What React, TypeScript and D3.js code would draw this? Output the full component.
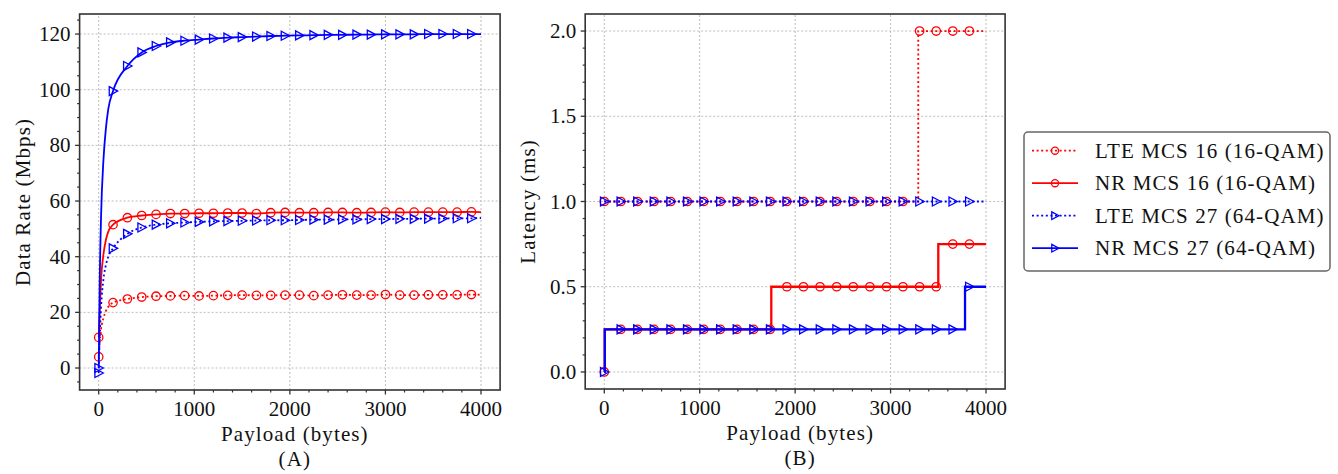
import { useEffect, useRef } from 'react'
import * as d3 from 'd3'

const RED = '#ff0000'
const BLUE = '#0000ff'
const FONT = 'Liberation Serif, DejaVu Serif, serif'

// panel A: data rate vs payload
const rateX = [0, 10, 25, 50, 75, 100, 150, 300, 450, 600, 750, 900, 1050, 1200, 1350, 1500, 1650, 1800, 1950,
  2100, 2250, 2400, 2550, 2700, 2850, 3000, 3150, 3300, 3450, 3600, 3750, 3900, 4000]
const lte16Rate = [4, 9, 14, 18, 20.5, 22, 23.5, 24.8, 25.5, 25.8, 25.9, 26, 25.9, 26, 26.1, 26.2, 26.1, 26.1, 26.2,
  26.2, 26, 26.2, 26.3, 26.2, 26.2, 26.4, 26.2, 26.2, 26.3, 26.3, 26.3, 26.4, 26.3]
const nr16Rate = [11, 20, 32, 41, 46, 49, 51.5, 54, 54.8, 55.2, 55.5, 55.5, 55.6, 55.6, 55.7, 55.7, 55.5, 55.8, 55.9,
  55.8, 55.8, 55.9, 55.9, 55.8, 55.9, 56, 55.9, 56, 56, 56, 56, 56.1, 56]
const lte27Rate = [-1.8, 10, 22, 32, 37, 40, 43, 48.2, 50.5, 51.5, 52, 52.3, 52.5, 52.7, 52.8, 52.9, 53, 53.1, 53.1,
  53.2, 53.3, 53.3, 53.4, 53.4, 53.5, 53.5, 53.6, 53.6, 53.7, 53.7, 53.8, 53.8, 53.9]
const nr27Rate = [0, 30, 55, 75, 86, 93, 99.5, 108.5, 113.4, 115.7, 117, 117.6, 118, 118.4, 118.7, 118.9, 119.1, 119.3, 119.4,
  119.5, 119.6, 119.7, 119.7, 119.8, 119.8, 119.9, 119.9, 119.9, 120, 120, 120, 120, 120]

// panel B: latency steps (value holds from x onwards)
const latMarkX = [0, 174, 348, 522, 696, 870, 1043, 1217, 1391, 1565, 1739, 1913, 2087, 2261, 2435, 2609, 2783,
  2957, 3130, 3304, 3478, 3652, 3826]
const lte16StepX = [0, 3290]
const lte16StepY = [1.0, 2.0]
const nr16StepX = [0, 5, 1750, 3500]
const nr16StepY = [0, 0.25, 0.5, 0.75]
const lte27StepX = [0]
const lte27StepY = [1.0]
const nr27StepX = [0, 5, 3780]
const nr27StepY = [0, 0.25, 0.5]

const xTicks = [0, 1000, 2000, 3000, 4000]
const rateTicks = [0, 20, 40, 60, 80, 100, 120]
const latTicks = [0, 0.5, 1.0, 1.5, 2.0]

const seriesNames = ['LTE MCS 16 (16-QAM)', 'NR MCS 16 (16-QAM)', 'LTE MCS 27 (64-QAM)', 'NR MCS 27 (64-QAM)']
const seriesColors = [RED, RED, BLUE, BLUE]
const seriesDotted = [true, false, true, false]
const seriesMarker = ['circle', 'circle', 'tri', 'tri']

const stepAt = (xs, ys, x) => {
  let v = ys[0]
  xs.forEach((sx, i) => { if (x >= sx) v = ys[i] })
  return v
}

function drawMarker(g, kind, x, y, color, s = 1) {
  if (kind === 'circle') {
    g.append('circle').attr('cx', x).attr('cy', y).attr('r', 4.2 * s)
      .attr('fill', 'none').attr('stroke', color).attr('stroke-width', 1.3)
  } else {
    g.append('path')
      .attr('d', `M${x - 3.8 * s},${y - 4.5 * s}L${x + 4.6 * s},${y}L${x - 3.8 * s},${y + 4.5 * s}Z`)
      .attr('fill', 'none').attr('stroke', color).attr('stroke-width', 1.3)
  }
}

function label(g, x, y, txt, anchor = 'middle', spacing = 1.1) {
  return g.append('text').attr('x', x).attr('y', y)
    .attr('text-anchor', anchor)
    .style('font-family', FONT).style('font-size', '21px')
    .style('letter-spacing', `${spacing}px`).attr('fill', '#111')
    .text(txt)
}

function drawFrame(svg, x, y, yTicks, yMinor, fmt, xLabel, yLabel, yLabelX, panel) {
  const [x0, x1] = x.range()
  const [y0, y1] = y.range()
  const g = svg.append('g')

  // grid
  xTicks.forEach(t => {
    g.append('line').attr('x1', x(t)).attr('x2', x(t)).attr('y1', y0).attr('y2', y1)
      .attr('stroke', '#bdbdbd').attr('stroke-width', 1).attr('stroke-dasharray', '2,2')
  })
  yTicks.forEach(t => {
    g.append('line').attr('x1', x0).attr('x2', x1).attr('y1', y(t)).attr('y2', y(t))
      .attr('stroke', '#bdbdbd').attr('stroke-width', 1).attr('stroke-dasharray', '2,2')
  })

  // ticks
  const xMinor = d3.range(200, 4200, 200).filter(t => t % 1000 !== 0)
  xMinor.forEach(t => {
    g.append('line').attr('x1', x(t)).attr('x2', x(t)).attr('y1', y0).attr('y2', y0 + 2.5)
      .attr('stroke', '#333').attr('stroke-width', 1.2)
  })
  xTicks.forEach(t => {
    g.append('line').attr('x1', x(t)).attr('x2', x(t)).attr('y1', y0).attr('y2', y0 + 4.5)
      .attr('stroke', '#333').attr('stroke-width', 1.3)
    label(g, x(t), y0 + 26, t, 'middle', 0)
  })
  yMinor.forEach(t => {
    g.append('line').attr('x1', x0).attr('x2', x0 - 2.5).attr('y1', y(t)).attr('y2', y(t))
      .attr('stroke', '#333').attr('stroke-width', 1.2)
  })
  yTicks.forEach(t => {
    g.append('line').attr('x1', x0).attr('x2', x0 - 4.5).attr('y1', y(t)).attr('y2', y(t))
      .attr('stroke', '#333').attr('stroke-width', 1.3)
    label(g, x0 - 9, y(t) + 7, fmt(t), 'end', 0)
  })

  // labels
  const cx = (x0 + x1) / 2 + 5
  label(g, cx, y0 + 51, xLabel)
  label(g, cx, y0 + 76, panel)
  label(g, 0, 0, yLabel)
    .attr('transform', `translate(${yLabelX},${(y0 + y1) / 2}) rotate(-90)`)
}

function drawSpines(svg, x, y) {
  const [x0, x1] = x.range()
  const [y0, y1] = y.range()
  svg.append('rect').attr('x', x0).attr('y', y1).attr('width', x1 - x0).attr('height', y0 - y1)
    .attr('fill', 'none').attr('stroke', '#333').attr('stroke-width', 1.6)
}

export default function App() {
  const svgRef = useRef(null)

  useEffect(() => {
    if (!svgRef.current) return
    const svg = d3.select(svgRef.current)
    svg.selectAll('*').remove()

    // ---- panel A
    const xA = d3.scaleLinear().domain([-200, 4200]).range([79.6, 500.1])
    const yA = d3.scaleLinear().domain([-7.9, 127.2]).range([390, 14])
    drawFrame(svg, xA, yA, rateTicks, d3.range(-5, 127, 5).filter(t => t % 20 !== 0),
      d => d, 'Payload (bytes)', 'Data Rate (Mbps)', 30, '(A)')

    const rateSeries = [lte16Rate, nr16Rate, lte27Rate, nr27Rate]
    const gA = svg.append('g')
    rateSeries.forEach((vals, si) => {
      const pts = rateX.map((xv, i) => [xA(xv), yA(vals[i])])
      gA.append('path').attr('d', d3.line().curve(d3.curveMonotoneX)(pts))
        .attr('fill', 'none').attr('stroke', seriesColors[si]).attr('stroke-width', 1.8)
        .attr('stroke-dasharray', seriesDotted[si] ? '2,2.6' : null)
      rateX.forEach((xv, i) => {
        if (xv % 150 !== 0 || xv > 3900) return
        drawMarker(gA, seriesMarker[si], xA(xv), yA(vals[i]), seriesColors[si])
      })
    })
    drawSpines(svg, xA, yA)

    // ---- panel B
    const xB = d3.scaleLinear().domain([-200, 4200]).range([585.2, 1005.1])
    const yB = d3.scaleLinear().domain([-0.1, 2.1]).range([389, 14])
    drawFrame(svg, xB, yB, latTicks, d3.range(0.1, 2.1, 0.1).filter(t => Math.abs(t * 2 - Math.round(t * 2)) > 1e-6),
      d => d3.format('.1f')(d), 'Payload (bytes)', 'Latency (ms)', 535, '(B)')

    const stepSeries = [[lte16StepX, lte16StepY], [nr16StepX, nr16StepY], [lte27StepX, lte27StepY], [nr27StepX, nr27StepY]]
    const gB = svg.append('g')
    stepSeries.forEach(([sx, sy], si) => {
      const pts = sx.map((xv, i) => [xB(xv), yB(sy[i])])
      pts.push([xB(4000), yB(sy[sy.length - 1])])
      gB.append('path').attr('d', d3.line().curve(d3.curveStepAfter)(pts))
        .attr('fill', 'none').attr('stroke', seriesColors[si]).attr('stroke-width', seriesDotted[si] ? 1.8 : 2.3)
        .attr('stroke-dasharray', seriesDotted[si] ? '2,2.6' : null)
      latMarkX.forEach(xv => {
        drawMarker(gB, seriesMarker[si], xB(xv), yB(stepAt(sx, sy, xv)), seriesColors[si])
      })
    })
    drawSpines(svg, xB, yB)

    // ---- legend
    const lg = svg.append('g')
    lg.append('rect').attr('x', 1024).attr('y', 132).attr('width', 306).attr('height', 139)
      .attr('rx', 4).attr('fill', '#fff').attr('stroke', '#666').attr('stroke-width', 1.5)
    seriesNames.forEach((name, i) => {
      const ly = 150.7 + i * 32.5
      lg.append('line').attr('x1', 1032).attr('x2', 1078).attr('y1', ly).attr('y2', ly)
        .attr('stroke', seriesColors[i]).attr('stroke-width', 1.8)
        .attr('stroke-dasharray', seriesDotted[i] ? '2,2.6' : null)
      drawMarker(lg, seriesMarker[i], 1055, ly, seriesColors[i], 0.85)
      label(lg, 1095, ly + 7, name, 'start')
    })
  }, [])

  return (
    <svg ref={svgRef} width={1338} height={474}
      style={{ position: 'absolute', left: 0, top: 0, background: '#fff' }} />
  )
}
